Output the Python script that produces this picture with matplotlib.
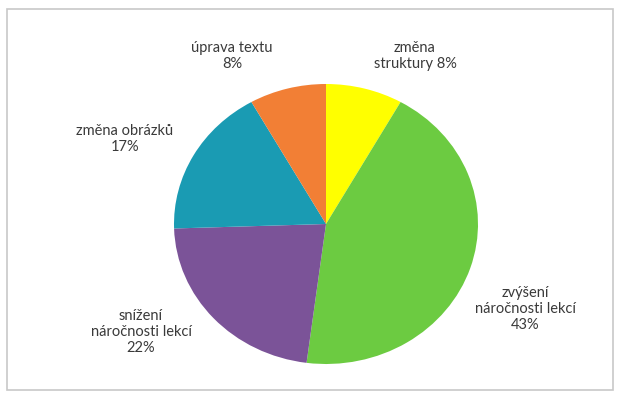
import matplotlib
matplotlib.use("Agg")
import matplotlib.pyplot as plt
from matplotlib.patches import Rectangle

# Data
categories = ["změna struktury", "zvýšení náročnosti lekcí", "snížení náročnosti lekcí",
              "změna obrázků", "úprava textu"]
values = [8, 43, 22, 17, 8]
colors = ["#FFFF00", "#6CCB41", "#7B5398", "#1A9BB3", "#F27F35"]
label_texts = ["změna\nstruktury {}%", "zvýšení\nnáročnosti lekcí\n{}%",
               "snížení\nnáročnosti lekcí\n{}%", "změna obrázků\n{}%", "úprava textu\n{}%"]
# label centres in pixels (x from left, y from top)
label_pos = [(415, 56), (525, 309), (141, 332), (125, 139), (232, 56)]

W, H = 617, 394
fig = plt.figure(figsize=(W / 100, H / 100), dpi=100)
fig.patch.set_facecolor("white")

# chart frame
fig.add_artist(Rectangle((7 / W, (H - 390) / H), 606 / W, 381 / H, transform=fig.transFigure,
                         fill=False, edgecolor="#c8c8c8", linewidth=1.2))

cx, cy, rx, ry = 326, 224, 152, 140
ax = fig.add_axes([(cx - rx) / W, (H - cy - ry) / H, 2 * rx / W, 2 * ry / H])
ax.pie(values, colors=colors, startangle=90, counterclock=False, radius=1,
       wedgeprops=dict(linewidth=0))
ax.set_aspect("auto")
ax.set_xlim(-1, 1)
ax.set_ylim(-1, 1)
ax.axis("off")

for txt, v, (px, py) in zip(label_texts, values, label_pos):
    fig.text(px / W, (H - py) / H, txt.format(v), ha="center", va="center",
             fontsize=10.5, family="Lato", color="#3a3a3a", linespacing=1.15)

fig.savefig("out.png", dpi=100, facecolor="white")
